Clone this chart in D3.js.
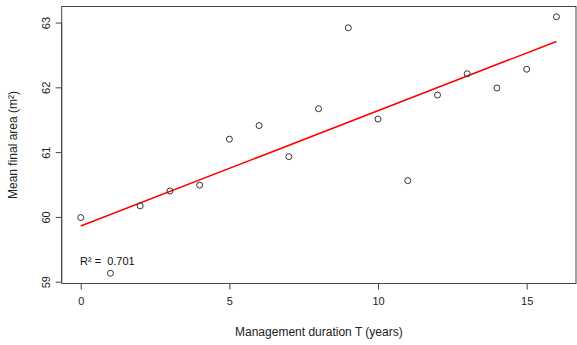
<!DOCTYPE html>
<html>
<head>
<meta charset="utf-8">
<script src="https://cdn.jsdelivr.net/npm/d3@7/dist/d3.min.js"></script>
<style>
  html, body { margin: 0; padding: 0; background: #fff; }
  svg { display: block; font-family: "Liberation Sans", Arial, sans-serif; }
</style>
</head>
<body>
<svg id="chart" width="577" height="345"></svg>
<script>
// Management duration (years) and mean final area (m²)
const durations = [0, 1, 2, 3, 4, 5, 6, 7, 8, 9, 10, 11, 12, 13, 14, 15, 16];
const meanArea = [59.99, 59.13, 60.17, 60.40, 60.49, 61.20, 61.41, 60.93,
                  61.67, 62.92, 61.51, 60.56, 61.88, 62.21, 61.99, 62.28, 63.09];
const xTicks = [0, 5, 10, 15];
const yTicks = [59, 60, 61, 62, 63];
const rSquaredLabel = "0.701";

const svg = d3.select("#chart");

// Plot region (axis ranges padded 4% beyond the data, as in base graphics)
const plotLeft = 61.7, plotRight = 576, plotTop = 6.5, plotBottom = 283.5;
const xPad = 0.04 * (d3.max(durations) - d3.min(durations));
const yExt = d3.extent(meanArea);
const yPad = 0.04 * (yExt[1] - yExt[0]);

const x = d3.scaleLinear()
  .domain([d3.min(durations) - xPad, d3.max(durations) + xPad])
  .range([plotLeft, plotLeft + (d3.max(durations) - d3.min(durations) + 2 * xPad) * 29.73]);
const y = d3.scaleLinear()
  .domain([yExt[0] - yPad, yExt[1] + yPad])
  .range([plotBottom, plotTop]);

// Least-squares fit of area on duration
const mx = d3.mean(durations), my = d3.mean(meanArea);
let sxy = 0, sxx = 0;
durations.forEach((t, i) => { sxy += (t - mx) * (meanArea[i] - my); sxx += (t - mx) ** 2; });
const slope = sxy / sxx, intercept = my - slope * mx;

// Frame
svg.append("rect")
  .attr("x", plotLeft).attr("y", plotTop)
  .attr("width", plotRight - plotLeft).attr("height", plotBottom - plotTop)
  .attr("fill", "none").attr("stroke", "#444").attr("stroke-width", 1);

// X axis
const xAxis = d3.axisBottom(x).tickValues(xTicks).tickSize(6).tickPadding(8).tickFormat(d3.format("d"));
const gx = svg.append("g").attr("transform", `translate(0,${plotBottom})`).call(xAxis);
gx.select(".domain").attr("d", `M${x(0)},0H${x(15)}`).attr("stroke", "#444");
gx.selectAll(".tick line").attr("stroke", "#444");
gx.selectAll(".tick text").attr("font-size", 11).attr("fill", "#222")
  .attr("font-family", "Liberation Sans, Arial, sans-serif");

// Y axis with rotated tick labels
const yAxis = d3.axisLeft(y).tickValues(yTicks).tickSize(6).tickFormat(d3.format("d"));
const gy = svg.append("g").attr("transform", `translate(${plotLeft},0)`).call(yAxis);
gy.select(".domain").attr("d", `M0,${y(59)}V${y(63)}`).attr("stroke", "#444");
gy.selectAll(".tick line").attr("stroke", "#444");
gy.selectAll(".tick text")
  .attr("font-size", 11).attr("fill", "#222")
  .attr("font-family", "Liberation Sans, Arial, sans-serif")
  .attr("x", null).attr("dy", null)
  .attr("text-anchor", "middle")
  .attr("transform", "translate(-16,0) rotate(-90)")
  .attr("dominant-baseline", "central");

// Axis titles
svg.append("text")
  .attr("x", (plotLeft + plotRight) / 2).attr("y", 336)
  .attr("text-anchor", "middle").attr("font-size", 12).attr("fill", "#222")
  .text("Management duration T (years)");
svg.append("text")
  .attr("transform", `translate(17,${(plotTop + plotBottom) / 2}) rotate(-90)`)
  .attr("text-anchor", "middle").attr("font-size", 12).attr("fill", "#222")
  .text("Mean final area (m²)");

// Regression line
const t0 = d3.min(durations), t1 = d3.max(durations);
svg.append("line")
  .attr("x1", x(t0)).attr("y1", y(intercept + slope * t0))
  .attr("x2", x(t1)).attr("y2", y(intercept + slope * t1))
  .attr("stroke", "#ff0000").attr("stroke-width", 1.6);

// Observations
svg.append("g").selectAll("circle")
  .data(durations.map((t, i) => [t, meanArea[i]]))
  .join("circle")
  .attr("cx", d => x(d[0])).attr("cy", d => y(d[1]))
  .attr("r", 3).attr("fill", "none").attr("stroke", "#333").attr("stroke-width", 1);

// Fit annotation
svg.append("text")
  .attr("x", 80).attr("y", 265)
  .attr("font-size", 11).attr("fill", "#111")
  .attr("xml:space", "preserve")
  .text("R² =  " + rSquaredLabel);
</script>
</body>
</html>
